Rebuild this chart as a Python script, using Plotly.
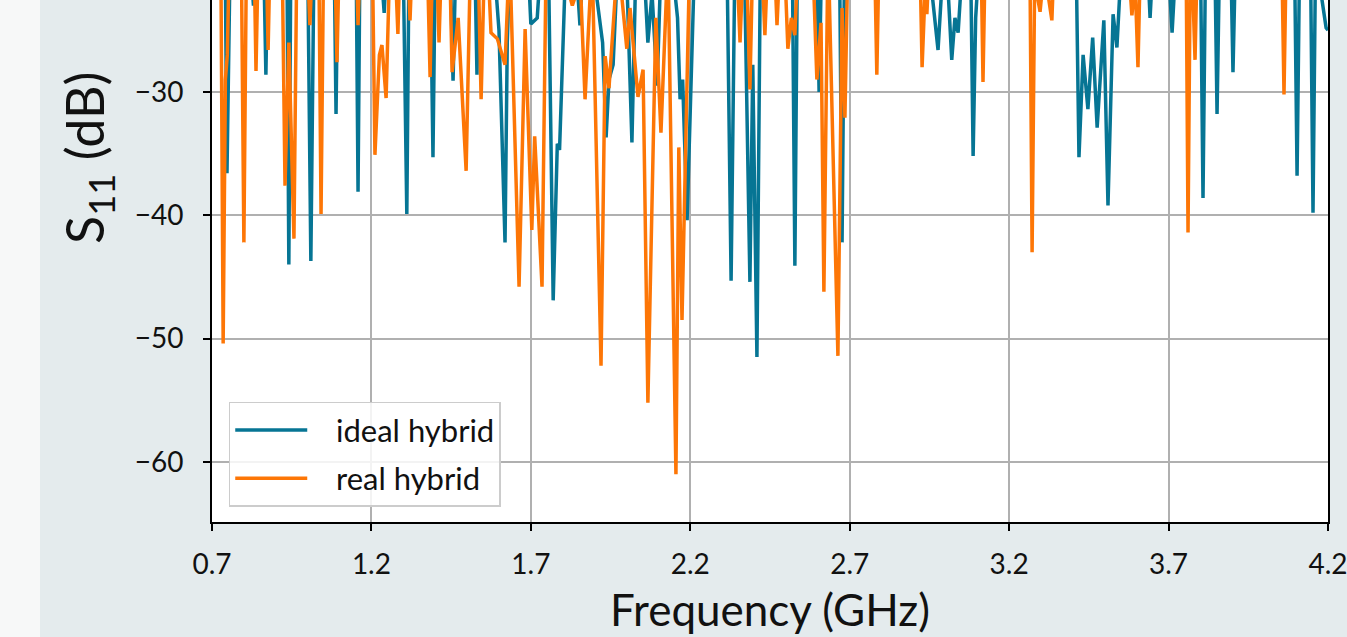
import plotly.graph_objects as go

# ---- data (frequency in GHz, S11 in dB) ----
ideal_freq = [0.70, 0.715, 0.735, 0.742, 0.747, 0.752, 0.757, 0.775, 0.785, 0.82, 0.83, 0.84,
              0.862, 0.869, 0.876, 0.90, 0.915, 0.935, 0.941, 0.947, 0.975, 0.99, 1.0, 1.01, 1.02,
              1.05, 1.07, 1.083, 1.089, 1.095, 1.12, 1.14, 1.152, 1.158, 1.164, 1.19, 1.23, 1.24, 1.25,
              1.28, 1.30, 1.311, 1.318, 1.34, 1.36, 1.37, 1.387, 1.393, 1.399, 1.41, 1.43, 1.445,
              1.456, 1.465, 1.48, 1.49, 1.50, 1.524, 1.531, 1.538, 1.58, 1.60, 1.619, 1.626, 1.635,
              1.69, 1.70, 1.72, 1.735, 1.755, 1.77, 1.783, 1.79, 1.81, 1.84, 1.854, 1.865, 1.90,
              1.925, 1.936, 1.945, 1.958, 1.975, 2.0, 2.017, 2.03, 2.055, 2.067, 2.08, 2.096, 2.11,
              2.14, 2.16, 2.168, 2.176, 2.19, 2.205, 2.215, 2.25, 2.29, 2.315, 2.328, 2.34, 2.37,
              2.387, 2.396, 2.409, 2.42, 2.45, 2.49, 2.52, 2.528, 2.536, 2.57, 2.597, 2.604, 2.612,
              2.64, 2.668, 2.676, 2.684, 2.72, 2.78, 2.85, 2.90, 2.95, 2.977, 2.99, 3.005, 3.02,
              3.03, 3.04, 3.055, 3.08, 3.087, 3.095, 3.102, 3.13, 3.20, 3.30, 3.38, 3.41, 3.419,
              3.432, 3.447, 3.462, 3.476, 3.497, 3.51, 3.526, 3.538, 3.555, 3.60, 3.635, 3.642,
              3.65, 3.70, 3.711, 3.722, 3.76, 3.80, 3.808, 3.816, 3.845, 3.852, 3.86, 3.895, 3.902,
              3.91, 3.95, 4.00, 4.05, 4.095, 4.103, 4.111, 4.145, 4.153, 4.161, 4.194, 4.20]
ideal_s11 = [-18, -22, -20, -21, -36.6, -28, -19, -18, -22, -19, -23, -18,
             -19, -28.6, -18, -20, -17, -19, -44.0, -20, -18, -22, -19, -43.7, -19,
             -18, -20, -19, -31.8, -19, -18, -20, -19, -38.1, -19, -17, -20, -23.6, -18,
             -19, -20, -39.9, -19, -18, -21, -19, -24, -35.3, -22, -18, -20, -18,
             -29.1, -19, -21, -18, -21, -19, -28.6, -19, -18, -25, -42.2, -26, -19,
             -19, -24.5, -24, -18, -19, -46.9, -34.2, -34.7, -19, -19, -24.6, -19, -21,
             -26, -33.7, -29, -27.8, -18, -20, -34.1, -19, -20, -26, -22, -29.5, -18,
             -19, -24, -30.6, -29, -40.4, -25, -18, -18, -20, -19, -45.3, -19, -20,
             -45.4, -27.8, -51.5, -19, -18, -20, -19, -44.1, -19, -18, -20, -30, -19,
             -18, -19, -42.2, -19, -18, -20, -19, -18, -20, -26.6, -21, -20, -27.4,
             -24, -25.2, -19, -21, -35.2, -24, -21, -18, -19, -20, -18, -19, -35.3,
             -27, -31.4, -25.6, -32.9, -24.2, -39.2, -23.7, -26.4, -18, -19, -20, -24,
             -20, -20, -25.2, -20, -18, -19, -38.6, -19, -19, -31.8, -19, -19, -28.4,
             -19, -18, -20, -18, -19, -36.8, -19, -19, -39.8, -19, -24.8, -25]

real_freq = [0.70, 0.718, 0.728, 0.735, 0.742, 0.748, 0.755, 0.792, 0.80, 0.808, 0.832, 0.838,
             0.845, 0.870, 0.876, 0.882, 0.92, 0.929, 0.941, 0.957, 0.966, 1.0, 1.007, 1.014,
             1.035, 1.042, 1.05, 1.085, 1.092, 1.099, 1.152, 1.158, 1.165, 1.203, 1.211, 1.225,
             1.233, 1.246, 1.258, 1.275, 1.283, 1.29, 1.315, 1.321, 1.327, 1.375, 1.384, 1.39,
             1.405, 1.412, 1.42, 1.445, 1.453, 1.472, 1.497, 1.503, 1.51, 1.535, 1.544, 1.552,
             1.566, 1.575, 1.595, 1.619, 1.628, 1.635, 1.663, 1.682, 1.703, 1.712, 1.735, 1.748,
             1.80, 1.83, 1.855, 1.870, 1.892, 1.920, 1.933, 1.945, 1.973, 2.001, 2.011, 2.036,
             2.052, 2.067, 2.092, 2.108, 2.130, 2.155, 2.164, 2.174, 2.199, 2.22, 2.30, 2.345,
             2.356, 2.365, 2.378, 2.387, 2.396, 2.425, 2.434, 2.442, 2.465, 2.472, 2.48, 2.498,
             2.506, 2.517, 2.528, 2.538, 2.585, 2.597, 2.61, 2.619, 2.632, 2.663, 2.676, 2.685,
             2.695, 2.75, 2.778, 2.785, 2.792, 2.85, 2.92, 2.927, 2.936, 2.942, 2.95, 3.05,
             3.112, 3.118, 3.125, 3.20, 3.265, 3.272, 3.28, 3.297, 3.31, 3.334, 3.34, 3.45,
             3.575, 3.585, 3.595, 3.604, 3.612, 3.70, 3.755, 3.761, 3.768, 3.775, 3.783, 3.79,
             3.90, 4.055, 4.062, 4.069, 4.13, 4.20]
real_s11 = [-18, -20, -20, -50.4, -29, -27, -18, -19, -42.2, -19, -19, -28.3,
            -19, -19, -26.6, -19, -19, -37.6, -26.0, -41.9, -19, -20, -24.6, -20,
            -19, -39.9, -19, -19, -27.6, -19, -19, -24.6, -19, -19, -35.1, -27,
            -26.2, -30.5, -19, -20, -25.3, -19, -20, -24.2, -20, -19, -28.8, -21,
            -20, -26, -19, -19, -28.4, -24, -36.4, -26.2, -20, -20, -30.6, -22,
            -20, -25.2, -25.7, -27.8, -22, -20, -45.8, -24.9, -41.2, -33.6, -45.8, -19,
            -20, -23, -21, -30.6, -19, -52.2, -27.1, -29.7, -19, -26.5, -23.2, -30.4,
            -28.2, -55.2, -24, -33.3, -19, -61.0, -34.5, -48.5, -18, -18, -20, -19,
            -26, -20, -21, -29.8, -19, -20, -25.4, -20, -20, -24.6, -20, -21,
            -26.5, -24, -25.4, -19, -20, -29, -24.4, -46.2, -18, -51.4, -23.2, -32.1,
            -18, -19, -19, -28.6, -19, -18, -19, -28, -22, -23.7, -19, -19,
            -19, -29.2, -19, -18, -19, -43, -21, -23.5, -20, -24.2, -20, -18,
            -20, -23.8, -21, -28, -19, -18, -19, -41.4, -20, -21, -27.4, -19,
            -18, -19, -30.2, -19, -18, -18]

x_ticks = [0.7, 1.2, 1.7, 2.2, 2.7, 3.2, 3.7, 4.2]
x_tick_text = ["0.7", "1.2", "1.7", "2.2", "2.7", "3.2", "3.7", "4.2"]
y_ticks = [-60, -50, -40, -30]
y_title = "S<sub>11</sub> (dB)"
x_title = "Frequency (GHz)"

BLUE = "#067594"
ORANGE = "#fd7606"
FONT = "Lato"

fig = go.Figure()
fig.add_trace(go.Scatter(x=ideal_freq, y=ideal_s11, mode="lines",
                         name="\u00a0\u00a0\u00a0ideal hybrid",
                         legendgroup="a", line=dict(color=BLUE, width=3.5)))
fig.add_trace(go.Scatter(x=real_freq, y=real_s11, mode="lines",
                         name="\u00a0\u00a0\u00a0real hybrid",
                         legendgroup="b", line=dict(color=ORANGE, width=3.5)))

axis_common = dict(showline=True, linecolor="black", linewidth=1.6, mirror=True,
                   showgrid=True, gridcolor="#b0b0b0", gridwidth=1.6,
                   ticks="outside", ticklen=7, tickwidth=1.5, tickcolor="black",
                   zeroline=False, tickfont=dict(family=FONT, size=28, color="#111111"))

fig.update_xaxes(range=[0.7, 4.2], tickvals=x_ticks, ticktext=x_tick_text,
                 ticklabelstandoff=10, ticklabeloverflow="allow",
                 title=dict(text=x_title, font=dict(family=FONT, size=44, color="#111111"),
                            standoff=16),
                 **axis_common)
fig.update_yaxes(range=[-64.87, -22.55], tickvals=y_ticks, ticklabelstandoff=14,
                 **axis_common)

# y-axis title (the axis continues above the visible crop, so its centre sits high)
fig.add_annotation(text=y_title, xref="paper", yref="paper",
                   x=(88 - 212) / 1116, y=(522 - 158) / 522, textangle=-90,
                   showarrow=False, xanchor="center", yanchor="middle",
                   font=dict(family=FONT, size=52, color="#111111"))

fig.add_shape(type="rect", xref="paper", yref="paper", x0=-0.2, x1=(40 - 212) / 1116,
              y0=-0.3, y1=1.05, fillcolor="#f7f8f8", line=dict(width=0), layer="below")

fig.update_layout(
    width=1347, height=637,
    margin=dict(l=212, r=19, t=0, b=115, autoexpand=False),
    paper_bgcolor="#e4ebed", plot_bgcolor="white",
    showlegend=True,
    legend=dict(x=0.015, y=0.029, xanchor="left", yanchor="bottom",
                bgcolor="rgba(255,255,255,0.85)", bordercolor="#cccccc", borderwidth=1.5,
                font=dict(family=FONT, size=31, color="#111111"),
                itemwidth=72, tracegroupgap=5, traceorder="grouped"),
)

fig.write_html("out.html", config={"displayModeBar": False},
               post_script="document.body.style.margin='0';")
